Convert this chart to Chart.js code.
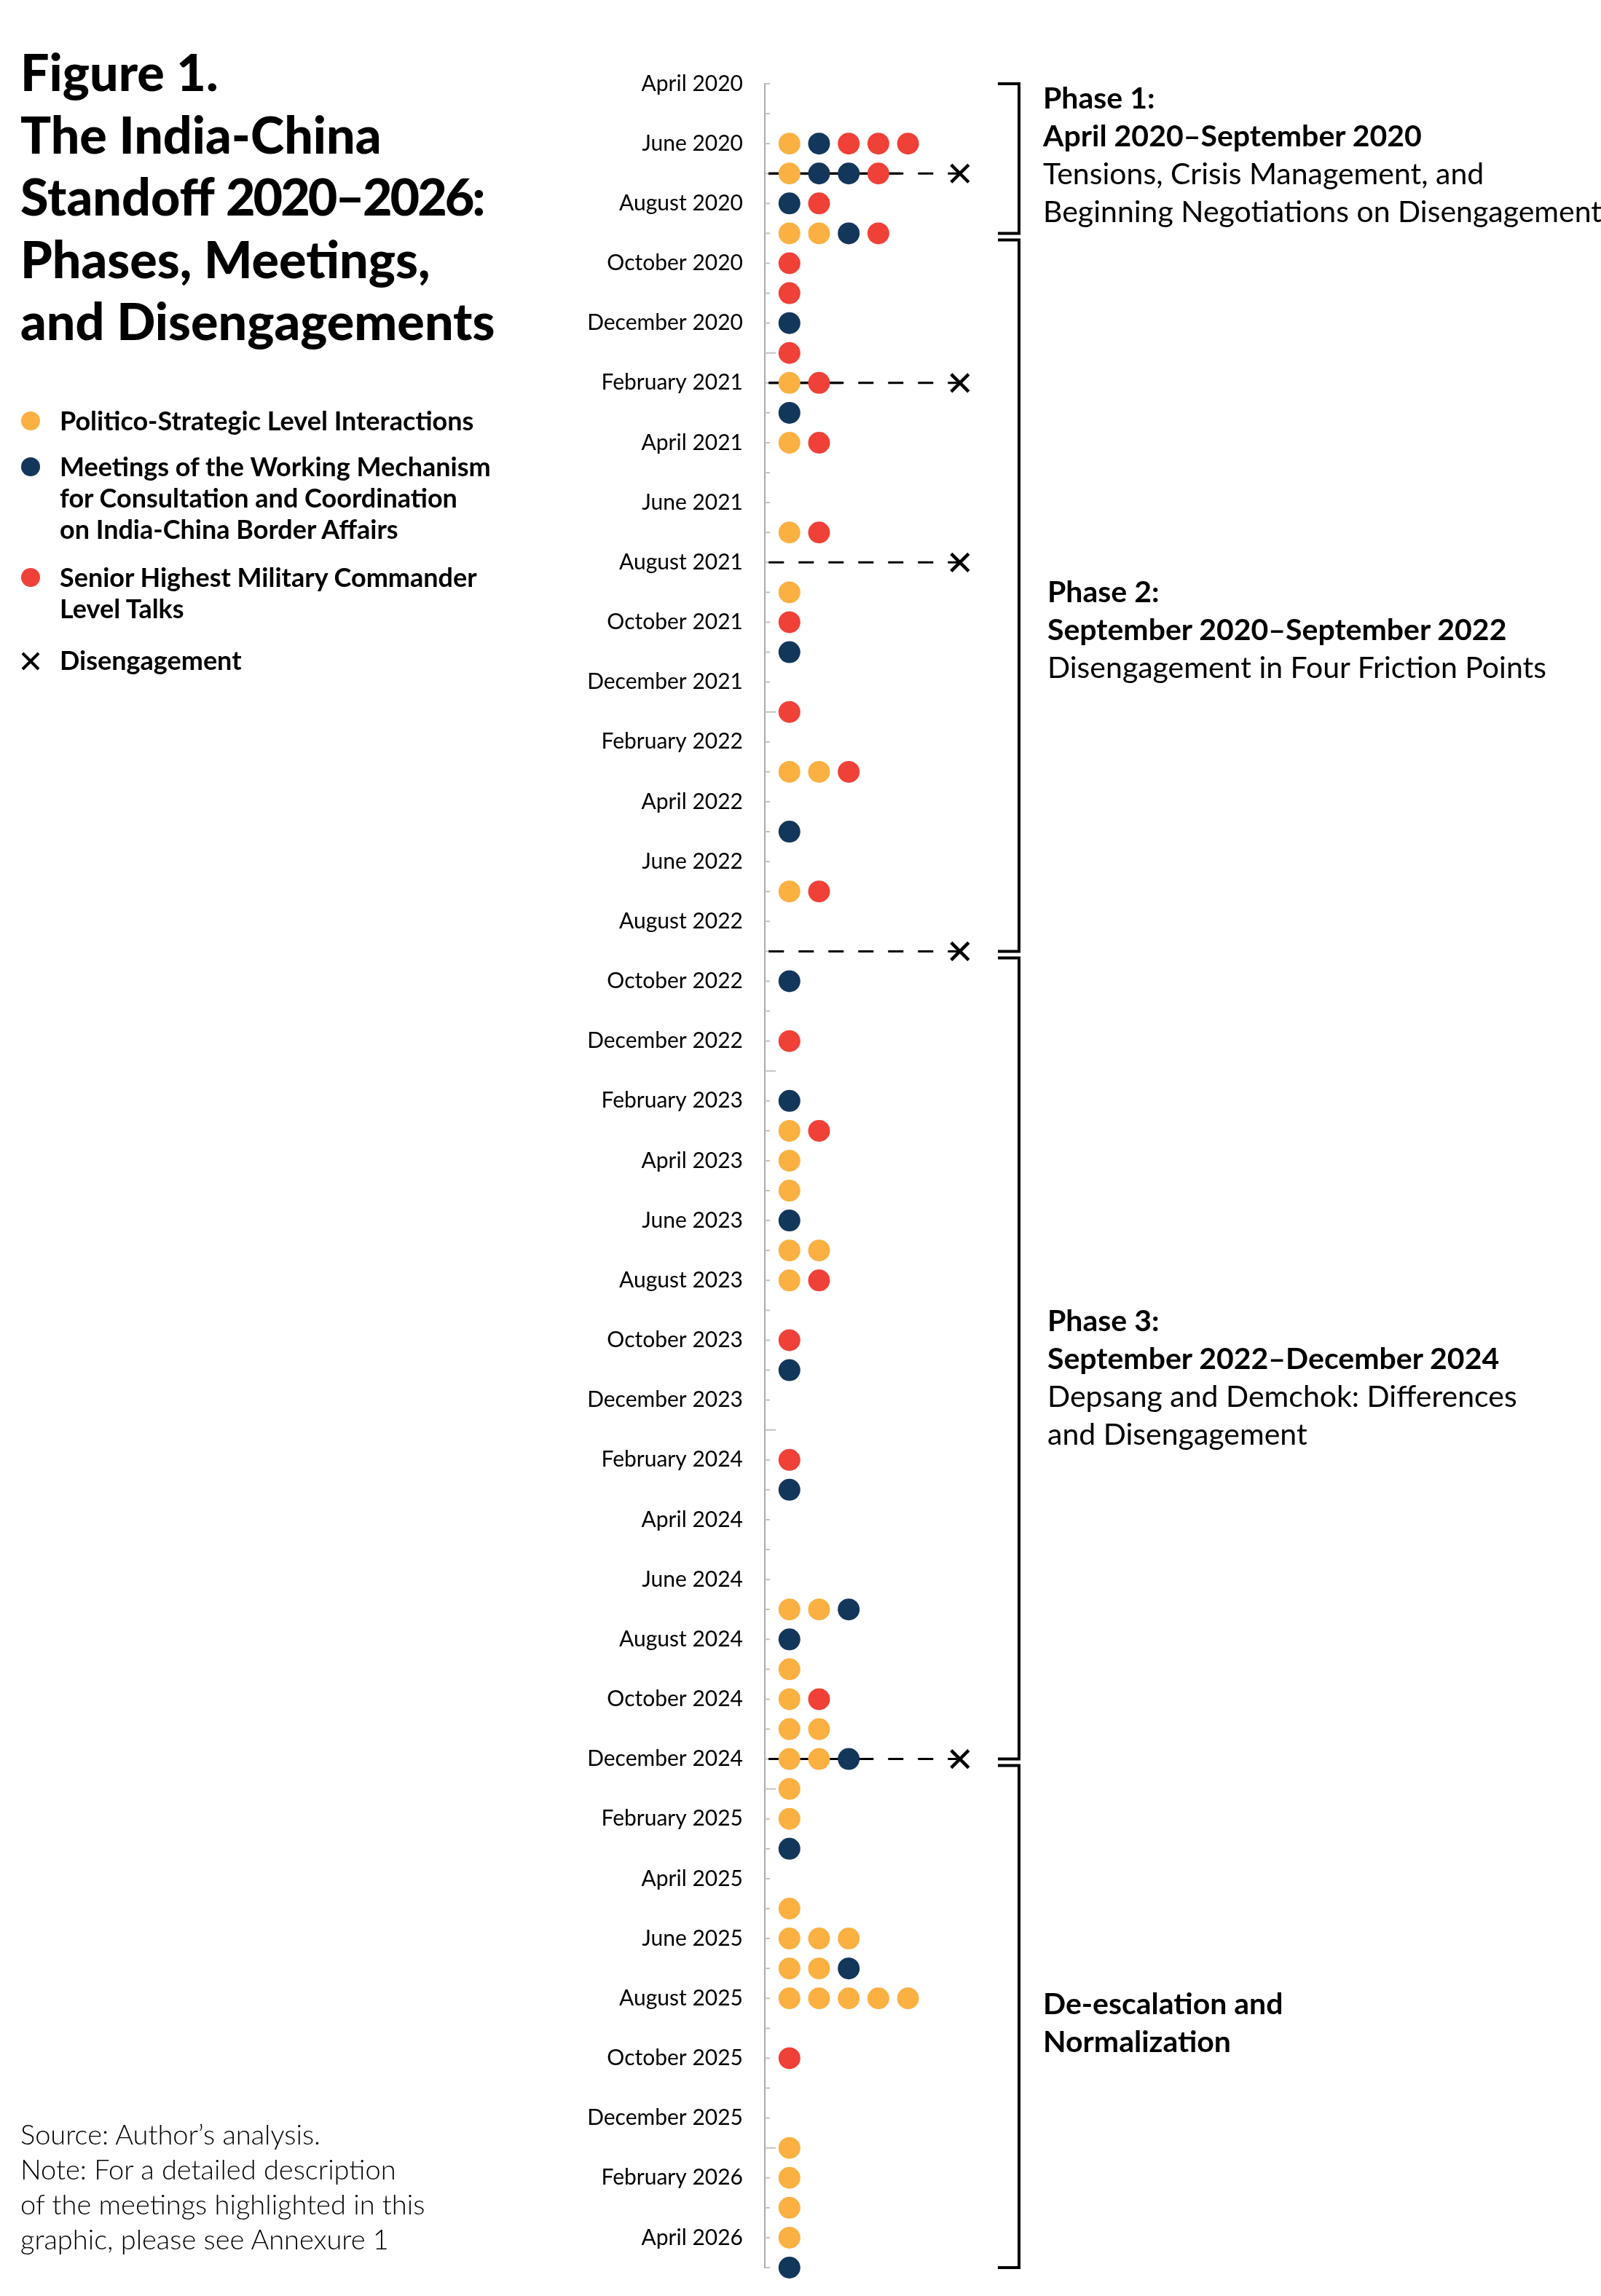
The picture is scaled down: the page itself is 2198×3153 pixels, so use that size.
<!DOCTYPE html>
<html><head><meta charset="utf-8">
<script src="https://cdn.jsdelivr.net/npm/chart.js@4.4.1/dist/chart.umd.min.js"></script>
<style>
html,body{margin:0;padding:0;background:#fff;}
#wrap{position:relative;width:2198px;height:3153px;overflow:hidden;background:#fff;font-family:Lato,"Noto Sans",sans-serif;color:#000;}
#c{position:absolute;left:0;top:0;}
#title{position:absolute;left:28px;top:56px;font-weight:900;font-size:70px;line-height:85.5px;margin:0;white-space:nowrap;}
#title .num{letter-spacing:-3px;}
.leg{position:absolute;left:82px;font-weight:700;font-size:36px;line-height:43px;white-space:nowrap;}
.dot{position:absolute;left:29px;width:26px;height:26px;border-radius:50%;}
.xmark{position:absolute;left:28px;}
#note{position:absolute;left:28px;top:2906px;font-weight:300;font-size:38px;line-height:48px;white-space:nowrap;}
.phase{position:absolute;left:1432px;font-size:41px;line-height:52px;white-space:nowrap;font-weight:400;}
.phase .h{font-weight:700;}
</style></head>
<body>
<div id="wrap">
  <canvas id="c" width="2198" height="3153" style="width:2198px;height:3153px"></canvas>
  <div id="title">Figure 1.<br>The India-China<br>Standoff <span class="num">2020–2026:</span><br>Phases, Meetings,<br>and Disengagements</div>
  <div id="legend"></div>
  <div id="note">Source: Author’s analysis.<br>Note: For a detailed description<br>of the meetings highlighted in this<br>graphic, please see Annexure 1</div>
  <div id="phases"></div>
</div>
<script>
// ---------- DATA ----------
const months = ['April 2020','May 2020','June 2020','July 2020','August 2020','September 2020','October 2020','November 2020','December 2020','January 2021',
'February 2021','March 2021','April 2021','May 2021','June 2021','July 2021','August 2021','September 2021','October 2021','November 2021',
'December 2021','January 2022','February 2022','March 2022','April 2022','May 2022','June 2022','July 2022','August 2022','September 2022',
'October 2022','November 2022','December 2022','January 2023','February 2023','March 2023','April 2023','May 2023','June 2023','July 2023',
'August 2023','September 2023','October 2023','November 2023','December 2023','January 2024','February 2024','March 2024','April 2024','May 2024',
'June 2024','July 2024','August 2024','September 2024','October 2024','November 2024','December 2024','January 2025','February 2025','March 2025',
'April 2025','May 2025','June 2025','July 2025','August 2025','September 2025','October 2025','November 2025','December 2025','January 2026',
'February 2026','March 2026','April 2026','May 2026'];

const seriesNames = ['Politico-Strategic Level Interactions',
  'Meetings of the Working Mechanism for Consultation and Coordination on India-China Border Affairs',
  'Senior Highest Military Commander Level Talks'];

// number of meetings per month, per series
const politicoCounts = [0,0,1,1,0,2,0,0,0,0, 1,0,1,0,0,1,0,1,0,0, 0,0,0,2,0,0,0,1,0,0, 0,0,0,0,0,1,1,1,0,2,
                        1,0,0,0,0,0,0,0,0,0, 0,2,0,1,1,2,2,1,1,0, 0,1,3,2,5,0,0,0,0,1, 1,1,1,0];
const wmccCounts     = [0,0,1,2,1,1,0,0,1,0, 0,1,0,0,0,0,0,0,0,1, 0,0,0,0,0,1,0,0,0,0, 1,0,0,0,1,0,0,0,1,0,
                        0,0,0,1,0,0,0,1,0,0, 0,1,1,0,0,0,1,0,0,1, 0,0,0,1,0,0,0,0,0,0, 0,0,0,1];
const militaryCounts = [0,0,3,1,1,1,1,1,0,1, 1,0,1,0,0,1,0,0,1,0, 0,1,0,1,0,0,0,1,0,0, 0,0,1,0,0,1,0,0,0,0,
                        1,0,1,0,0,0,1,0,0,0, 0,0,0,0,1,0,0,0,0,0, 0,0,0,0,0,0,1,0,0,0, 0,0,0,0];

const disengagements = ['July 2020','February 2021','August 2021','September 2022','December 2024'];

const phaseStart = ['April 2020','September 2020','September 2022','December 2024'];
const phaseEnd   = ['September 2020','September 2022','December 2024','May 2026'];
const phaseHeads = [['Phase 1:','April 2020–September 2020'],['Phase 2:','September 2020–September 2022'],
                    ['Phase 3:','September 2022–December 2024'],['De-escalation and','Normalization']];
const phaseDescs = [['Tensions, Crisis Management, and','Beginning Negotiations on Disengagement'],
                    ['Disengagement in Four Friction Points'],
                    ['Depsang and Demchok: Differences','and Disengagement'],[]];

// ---------- STYLE ----------
const colors = ['#FBB042','#13365B','#EF4138'];
const phaseLabelAt = [0.46, 16.97, 41.33, 64.17];
const phaseLabelDx = [0, 6, 6, 0];
const FONT = 'Lato';

// ---------- BUILD ----------
const counts = [politicoCounts, wmccCounts, militaryCounts];
const pointsBySeries = [[],[],[]];
const rowCount = [];
months.forEach((m, i) => {
  let pos = 1;
  counts.forEach((arr, s) => {
    for (let k = 0; k < arr[i]; k++) pointsBySeries[s].push({x: pos++, y: i});
  });
  rowCount.push(pos - 1);
});

const LINE_START = 0.3, X_POS = 6.75;
const datasets = [];
pointsBySeries.forEach((pts, s) => datasets.push({
  label: seriesNames[s], data: pts, backgroundColor: colors[s], borderWidth: 0,
  pointRadius: 15, pointHoverRadius: 15, clip: false, order: 0
}));
disengagements.forEach(d => {
  const i = months.indexOf(d);
  datasets.push({label: 'dash', data: [{x: LINE_START, y: i}, {x: X_POS, y: i}], showLine: true,
    borderColor: '#000', borderWidth: 3, borderDash: [21, 20], pointRadius: 0, order: 3, clip: false});
  if (rowCount[i] > 0) datasets.push({label: 'solid', data: [{x: LINE_START, y: i}, {x: rowCount[i] + 0.75, y: i}],
    showLine: true, borderColor: '#000', borderWidth: 3, pointRadius: 0, order: 2, clip: false});
});
datasets.push({label: 'Disengagement', data: disengagements.map(d => ({x: X_POS, y: months.indexOf(d)})),
  pointStyle: 'crossRot', pointRadius: 17, pointBorderWidth: 4.5, borderColor: '#000', borderWidth: 4.5,
  backgroundColor: '#000', order: 0, clip: false});

const monthTicks = {
  id: 'monthTicks',
  beforeDatasetsDraw(chart) {
    const {ctx, chartArea, scales: {y}} = chart;
    ctx.save();
    ctx.strokeStyle = '#c2c2c2'; ctx.lineWidth = 2;
    months.forEach((m, i) => {
      const py = y.getPixelForValue(i);
      const len = m.startsWith('January') ? 15 : 7;
      ctx.beginPath(); ctx.moveTo(chartArea.left, py); ctx.lineTo(chartArea.left + len, py); ctx.stroke();
    });
    ctx.restore();
  }
};
const phaseBrackets = {
  id: 'phaseBrackets',
  afterDraw(chart) {
    const {ctx, chartArea, scales: {y}} = chart;
    const xs = chartArea.right + 42, xv = chartArea.right + 71;
    ctx.save();
    ctx.strokeStyle = '#000'; ctx.lineWidth = 4; ctx.lineJoin = 'miter'; ctx.lineCap = 'butt';
    phaseStart.forEach((s, i) => {
      const yt = y.getPixelForValue(months.indexOf(s)) + (i > 0 ? 9 : 0);
      const yb = y.getPixelForValue(months.indexOf(phaseEnd[i]));
      ctx.beginPath(); ctx.moveTo(xs, yt); ctx.lineTo(xv, yt); ctx.lineTo(xv, yb); ctx.lineTo(xs, yb); ctx.stroke();
    });
    ctx.restore();
  }
};

function buildHtml(chart) {
  const leg = document.getElementById('legend');
  const legLines = [['Politico-Strategic Level Interactions'],
    ['Meetings of the Working Mechanism','for Consultation and Coordination','on India-China Border Affairs'],
    ['Senior Highest Military Commander','Level Talks']];
  const tops = [556, 619, 771];
  legLines.forEach((lines, s) => {
    const t = document.createElement('div'); t.className = 'leg'; t.style.top = tops[s] + 'px';
    t.innerHTML = lines.join('<br>'); leg.appendChild(t);
    const d = document.createElement('div'); d.className = 'dot'; d.style.top = (tops[s] + 21.5 - 13) + 'px';
    d.style.background = colors[s]; leg.appendChild(d);
  });
  const t = document.createElement('div'); t.className = 'leg'; t.style.top = '885px'; t.textContent = 'Disengagement'; leg.appendChild(t);
  const x = document.createElement('div'); x.className = 'xmark'; x.style.top = '894px';
  x.innerHTML = '<svg width="28" height="28"><path d="M3 3 L25 25 M25 3 L3 25" stroke="#000" stroke-width="4"/></svg>';
  leg.appendChild(x);

  const ph = document.getElementById('phases');
  const y = chart.scales.y;
  phaseHeads.forEach((h, i) => {
    const d = document.createElement('div'); d.className = 'phase';
    d.style.top = (y.getPixelForValue(phaseLabelAt[i]) - 26) + 'px';
    d.style.left = (chart.chartArea.right + 104 + phaseLabelDx[i]) + 'px';
    d.innerHTML = h.map(l => '<span class="h">' + l + '</span>').join('<br>') +
      (phaseDescs[i].length ? '<br>' + phaseDescs[i].join('<br>') : '');
    ph.appendChild(d);
  });
}

function draw() {
  const chart = new Chart(document.getElementById('c'), {
    type: 'scatter',
    data: {datasets},
    options: {
      responsive: false, animation: false, events: [],
      layout: {padding: {top: 115, bottom: 39, left: 0, right: 870}},
      plugins: {legend: {display: false}, tooltip: {enabled: false}},
      scales: {
        x: {type: 'linear', min: 0.17, max: 7, display: false},
        y: {type: 'linear', min: 0, max: 73, reverse: true,
          afterFit(s) { s.width = 1050; s.paddingTop = 0; s.paddingBottom = 0; },
          grid: {drawOnChartArea: false, drawTicks: false},
          border: {display: true, color: '#ababab', width: 2},
          ticks: {stepSize: 1, autoSkip: false, padding: 30, color: '#000',
            font: {family: FONT, size: 30},
            callback: v => (Number.isInteger(v) && v % 2 === 0) ? months[v] : ''}
        }
      }
    },
    plugins: [monthTicks, phaseBrackets]
  });
  buildHtml(chart);
}
const loads = ['400 30px Lato','700 36px Lato','900 70px Lato','300 38px Lato','700 41px Lato','400 41px Lato'].map(f => document.fonts.load(f).catch(() => null));
Promise.all(loads).then(draw, draw);
</script>
</body></html>
